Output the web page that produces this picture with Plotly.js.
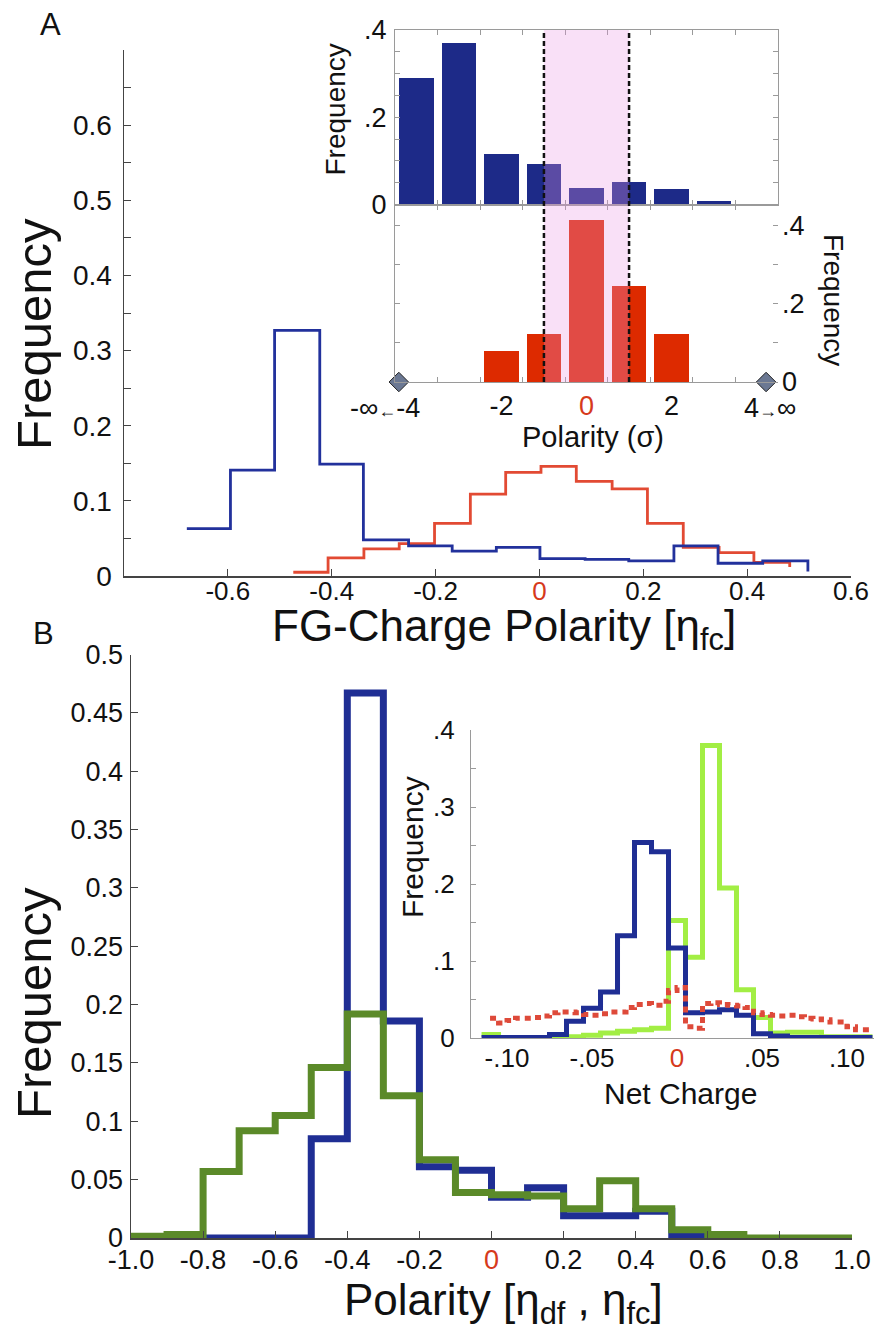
<!DOCTYPE html>
<html><head><meta charset="utf-8">
<script src="https://cdn.plot.ly/plotly-3.0.1.min.js"></script>
<style>html,body{margin:0;padding:0;background:#fff}#chart{width:874px;height:1341px}</style>
</head><body><div id="chart"></div>
<script>
// ---------- Panel A main: FG-Charge polarity histograms (stairs) ----------
const blueA_edges = [-0.679,-0.595,-0.51,-0.423,-0.339,-0.252,-0.168,-0.083,0.001,0.088,0.172,0.259,0.344,0.43,0.517];
const blueA_vals  = [0.063,0.141,0.327,0.149,0.048,0.040,0.033,0.038,0.023,0.022,0.020,0.040,0.017,0.020];
const blueA_end   = 0.006;
const redA_edges  = [-0.474,-0.407,-0.338,-0.27,-0.202,-0.133,-0.065,0.003,0.071,0.14,0.208,0.277,0.346,0.413,0.482];
const redA_vals   = [0.005,0.024,0.036,0.043,0.070,0.109,0.138,0.146,0.126,0.116,0.070,0.038,0.031,0.018];
const redA_end    = 0.012;

// ---------- Panel A inset: polarity in sigma units ----------
const sigmaBins   = [-4,-3,-2,-1,0,1,2,3];
const sigmaBlue   = [0.290,0.370,0.115,0.092,0.038,0.052,0.035,0.009];
const sigmaRedBins= [-2,-1,0,1,2];
const sigmaRed    = [0.080,0.123,0.414,0.247,0.123];
const infMarkersX = [-4.41,4.22];
const infMarkersY = [0,0];

// ---------- Panel B main ----------
const blueB_edges = [-0.8,-0.7,-0.6,-0.5,-0.4,-0.3,-0.2,-0.1,0,0.1,0.2,0.3,0.4,0.5,0.6];
const blueB_vals  = [0,0,0,0.085,0.467,0.186,0.061,0.058,0.035,0.043,0.019,0.019,0.023,0.002];
const blueB_end   = 0;
const greenB_edges= [-1.0,-0.9,-0.8,-0.7,-0.6,-0.5,-0.4,-0.3,-0.2,-0.1,0,0.1,0.2,0.3,0.4,0.5,0.6,0.7,0.8,0.9,1.0];
const greenB_vals = [0.0015,0.003,0.057,0.092,0.105,0.146,0.192,0.122,0.067,0.039,0.037,0.036,0.025,0.049,0.025,0.007,0.003,0,0,0];
const greenB_end  = 0;

// ---------- Panel B inset: net charge ----------
const blueNC_edges = [-0.115,-0.075,-0.065,-0.055,-0.045,-0.035,-0.025,-0.015,-0.005,0.005,0.015,0.025,0.035,0.045,0.055,0.065,0.115];
const blueNC_vals  = [0.001,0.005,0.022,0.039,0.060,0.133,0.254,0.242,0.117,0.033,0.034,0.037,0.030,0.006,0.003,0.001];
const blueNC_end   = 0.001;
const greenNC_edges= [-0.115,-0.105,-0.065,-0.055,-0.045,-0.035,-0.025,-0.015,-0.005,0.005,0.015,0.025,0.035,0.045,0.055,0.065,0.085,0.115];
const greenNC_vals = [0.005,0.0,0.002,0.004,0.007,0.009,0.011,0.013,0.153,0.105,0.380,0.195,0.063,0.027,0.007,0.008,0.002];
const greenNC_end  = 0.002;
const redNC_edges  = [-0.110,-0.105,-0.100,-0.095,-0.090,-0.085,-0.080,-0.075,-0.070,-0.065,-0.060,-0.055,-0.050,-0.045,-0.040,-0.035,-0.030,-0.025,-0.020,-0.015,-0.010,-0.005,0.000,0.005,0.010,0.015,0.020,0.025,0.030,0.035,0.040,0.045,0.050,0.055,0.060,0.065,0.070,0.075,0.080,0.085,0.090,0.095,0.100,0.105,0.110,0.115];
const redNC_vals   = [0.026,0.020,0.023,0.026,0.026,0.027,0.029,0.033,0.034,0.034,0.033,0.031,0.030,0.032,0.034,0.034,0.040,0.044,0.045,0.043,0.048,0.062,0.066,0.015,0.013,0.045,0.046,0.044,0.043,0.042,0.040,0.033,0.031,0.030,0.029,0.030,0.028,0.026,0.025,0.024,0.021,0.021,0.015,0.011,0.011];
const redNC_end    = 0.011;

// tick labels
const tickA_x = ['-0.6','-0.4','-0.2','0','0.2','0.4','0.6'];
const tickA_xv = [-0.6,-0.4,-0.2,0,0.2,0.4,0.6];
const tickB_x = ['-1.0','-0.8','-0.6','-0.4','-0.2','0','0.2','0.4','0.6','0.8','1.0'];
const tickB_xv = [-1,-0.8,-0.6,-0.4,-0.2,0,0.2,0.4,0.6,0.8,1];
const tickB_y = ['0','0.05','0.1','0.15','0.2','0.25','0.3','0.35','0.4','0.45','0.5'];
const tickB_yv = [0,0.05,0.1,0.15,0.2,0.25,0.3,0.35,0.4,0.45,0.5];
const tickA_yv = [0,0.05,0.1,0.15,0.2,0.25,0.3,0.35,0.4,0.45,0.5,0.55,0.6,0.65];
const tickA_y  = ['0','','0.1','','0.2','','0.3','','0.4','','0.5','','0.6',''];
const tickNC_x = ['-.10','-.05','0','.05','.10'];
const tickNC_xv = [-0.1,-0.05,0,0.05,0.1];
const tickNC_yv = [0,0.05,0.1,0.15,0.2,0.25,0.3,0.35,0.4];
const tickNC_y  = ['0','','.1','','.2','','.3','','.4'];
const tickSig_top_yv = [0,0.05,0.1,0.15,0.2,0.25,0.3,0.35,0.4];
const tickSig_top_y  = ['0','','','','.2','','','','.4'];
const tickSig_bot_yv = [0,0.1,0.2,0.3,0.4];
const tickSig_bot_y  = ['0','','.2','','.4'];
const tickSig_x  = ['-2','0','2'];
const tickSig_xv = [-2,0,2];
const sigmaEdgeTicks = [-3.5,-2.5,-1.5,-0.5,0.5,1.5,2.5,3.5];

// ---------- layout helpers ----------
const W = 874, H = 1341;
const px = v => v / W;
const py = v => 1 - v / H;
const FONT = 'Liberation Sans, Arial, Helvetica, sans-serif';
const RED0 = s => s === '0' ? "<span style='color:#d63a1c'>0</span>" : s;

const stairs = (edges, vals, end) => ({x: edges, y: vals.concat([end])});

const traces = [];
function stairTrace(st, xa, ya, color, width, dash) {
  return {type:'scatter', mode:'lines', x: st.x, y: st.y, xaxis: xa, yaxis: ya,
    line:{shape:'hv', color: color, width: width, dash: dash || 'solid'}, hoverinfo:'skip'};
}
traces.push(stairTrace(stairs(redA_edges, redA_vals, redA_end), 'x', 'y', '#e24a33', 2.8));
traces.push(stairTrace(stairs(blueA_edges, blueA_vals, blueA_end), 'x', 'y', '#22319c', 2.8));
traces.push({type:'bar', x: sigmaBins, y: sigmaBlue, xaxis:'x2', yaxis:'y2', width:0.81,
  marker:{color:'#1d2a88', line:{width:0}}, hoverinfo:'skip'});
traces.push({type:'bar', x: sigmaRedBins, y: sigmaRed, xaxis:'x3', yaxis:'y3', width:0.81,
  marker:{color:'#dd2a00', line:{width:0}}, hoverinfo:'skip'});
traces.push({type:'scatter', mode:'markers', x: infMarkersX, y: infMarkersY, xaxis:'x3', yaxis:'y6',
  cliponaxis:false, marker:{symbol:'diamond', size:15, color:'#6b7893', line:{color:'#222', width:1}}, hoverinfo:'skip'});
traces.push(stairTrace(stairs(blueB_edges, blueB_vals, blueB_end), 'x4', 'y4', '#1f2e94', 7));
traces.push(stairTrace(stairs(greenB_edges, greenB_vals, greenB_end), 'x4', 'y4', '#5b8a29', 7));
traces.push(stairTrace(stairs(greenNC_edges, greenNC_vals, greenNC_end), 'x5', 'y5', '#a2ee44', 5));
traces.push(stairTrace(stairs(blueNC_edges, blueNC_vals, blueNC_end), 'x5', 'y5', '#1f2e94', 5));
traces.push(stairTrace(stairs(redNC_edges, redNC_vals, redNC_end), 'x5', 'y5', '#de4a3a', 5, '6px,5px'));

const mainAxis = {showline:true, linecolor:'#444', linewidth:1.5, ticks:'inside', ticklen:7, tickcolor:'#444',
  tickwidth:1, showgrid:false, zeroline:false, fixedrange:true, tickfont:{family:FONT, size:27, color:'#111'}};
const insetAxis = {showline:true, linecolor:'#9a9a9a', linewidth:1, ticks:'inside', ticklen:5, tickcolor:'#9a9a9a',
  tickwidth:1, showgrid:false, zeroline:false, fixedrange:true, tickfont:{family:FONT, size:27, color:'#111'}};

function ann(text, x, y, size, extra) {
  return Object.assign({text: text, xref:'paper', yref:'paper', x: px(x), y: py(y), xanchor:'center', yanchor:'middle',
    showarrow:false, font:{family:FONT, size: size, color:'#111'}}, extra || {});
}

const layout = {
  width: W, height: H, margin:{l:0,r:0,t:0,b:0}, paper_bgcolor:'#fff', plot_bgcolor:'rgba(0,0,0,0)',
  showlegend:false, hovermode:false, font:{family:FONT, color:'#111'}, bargap:0,
  xaxis: Object.assign({}, mainAxis, {domain:[px(124),px(851)], range:[-0.8,0.6], anchor:'y',
    tickmode:'array', tickvals: tickA_xv, ticktext: tickA_x.map(RED0), tickfont:{family:FONT,size:26,color:'#111'}, ticklabelstandoff:-9}),
  yaxis: Object.assign({}, mainAxis, {domain:[py(576),py(50)], range:[0,0.7], anchor:'x',
    tickmode:'array', tickvals: tickA_yv, ticktext: tickA_y, tickfont:{family:FONT,size:28,color:'#111'}, ticklabelstandoff:5}),
  xaxis2: Object.assign({}, insetAxis, {domain:[px(395),px(778)], range:[-4.5,4.5], anchor:'y2', mirror:'ticks',
    tickmode:'array', tickvals: sigmaEdgeTicks, showticklabels:false}),
  yaxis2: Object.assign({}, insetAxis, {domain:[py(204.5),py(30)], range:[0,0.4], anchor:'x2', mirror:'ticks',
    tickmode:'array', tickvals: tickSig_top_yv, ticktext: tickSig_top_y, ticklabelstandoff:2}),
  xaxis3: Object.assign({}, insetAxis, {domain:[px(395),px(778)], range:[-4.5,4.5], anchor:'y3', mirror:'ticks',
    tickmode:'array', tickvals: tickSig_xv, ticktext: tickSig_x.map(RED0), ticks:'', ticklabelstandoff:0,
    minor:{tickmode:'array', tickvals: sigmaEdgeTicks, ticks:'inside', ticklen:5, tickcolor:'#9a9a9a', showgrid:false}}),
  yaxis3: Object.assign({}, insetAxis, {domain:[py(382),py(204.5)], range:[0,0.455], anchor:'x3', side:'right', showline:false,
    tickmode:'array', tickvals: tickSig_bot_yv, ticktext: tickSig_bot_y, ticklabelstandoff:3}),
  yaxis6: Object.assign({}, insetAxis, {overlaying:'y3', range:[0,0.455], anchor:'x3', side:'left',
    tickmode:'array', tickvals: tickSig_bot_yv, showticklabels:false}),
  xaxis4: Object.assign({}, mainAxis, {domain:[px(131),px(852)], range:[-1,1], anchor:'y4',
    tickmode:'array', tickvals: tickB_xv, ticktext: tickB_x.map(RED0), ticklabelstandoff:-3}),
  yaxis4: Object.assign({}, mainAxis, {domain:[py(1238),py(654.5)], range:[0,0.5], anchor:'x4',
    tickmode:'array', tickvals: tickB_yv, ticktext: tickB_y, ticklabelstandoff:1}),
  xaxis5: Object.assign({}, insetAxis, {domain:[px(471),1], range:[-0.1212,0.1159], anchor:'y5', ticks:'',
    tickmode:'array', tickvals: tickNC_xv, ticktext: tickNC_x.map(RED0), tickfont:{family:FONT,size:26,color:'#111'}, ticklabelstandoff:-4}),
  yaxis5: Object.assign({}, insetAxis, {domain:[py(1038.3),py(730)], range:[0,0.4], anchor:'x5',
    tickmode:'array', tickvals: tickNC_yv, ticktext: tickNC_y, tickfont:{family:FONT,size:26,color:'#111'}, ticklabelstandoff:10}),
  shapes: [
    {type:'rect', xref:'x2', yref:'paper', x0:-1, x1:1, y0:py(382), y1:py(30), fillcolor:'rgba(234,152,228,0.3)', line:{width:0}, layer:'above'},
    {type:'line', xref:'x2', yref:'paper', x0:-1, x1:-1, y0:py(382), y1:py(30), line:{color:'#111', width:2.5, dash:'5px,3px'}, layer:'above'},
    {type:'line', xref:'x2', yref:'paper', x0:1, x1:1, y0:py(382), y1:py(30), line:{color:'#111', width:2.5, dash:'5px,3px'}, layer:'above'}
  ],
  annotations: [
    ann('A', 50, 24, 31),
    ann('B', 43, 633, 31),
    ann('Frequency', 34, 334, 49, {textangle:-90}),
    ann('FG-Charge Polarity [η<sub>fc</sub>]', 504, 629, 44),
    ann('Frequency', 34, 1003, 49, {textangle:-90}),
    ann('Polarity [η<sub>df</sub> , η<sub>fc</sub>]', 503, 1303, 44),
    ann('Frequency', 334.5, 110, 28, {textangle:-90}),
    ann('Frequency', 834, 300, 28, {textangle:90}),
    ann('Polarity (σ)', 593, 437, 29),
    {text:"-∞<span style='font-size:18px'>←</span>-4", xref:'x3', yref:'paper', x:-3.866, y:py(408), xanchor:'right', yanchor:'middle', showarrow:false, font:{family:FONT,size:27,color:'#111'}},
    {text:"4<span style='font-size:18px'>→</span>∞", xref:'x3', yref:'paper', x:3.653, y:py(408), xanchor:'left', yanchor:'middle', showarrow:false, font:{family:FONT,size:27,color:'#111'}},
    ann('Frequency', 413, 847, 30, {textangle:-90}),
    ann('Net Charge', 680, 1093, 30)
  ]
};

Plotly.newPlot('chart', traces, layout, {staticPlot:true, displayModeBar:false});
</script>
</body></html>
